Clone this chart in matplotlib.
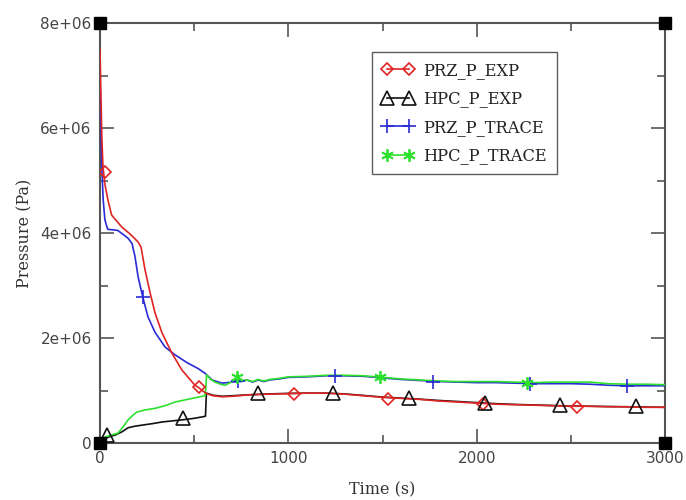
import matplotlib
matplotlib.use("Agg")
import matplotlib.pyplot as plt
from matplotlib.lines import Line2D

# ---- data (time in s, pressure in Pa) ----
prz_exp_t = [0, 5, 10, 16, 25, 42, 62, 90, 117, 160, 202, 218, 239, 266, 292, 329, 382,
             435, 504, 526, 550, 562, 575, 600, 650, 700, 800, 900, 1000, 1100, 1200,
             1300, 1400, 1500, 1600, 1700, 1800, 1900, 2000, 2100, 2200, 2300, 2400, 2500,
             2600, 2700, 2800, 2900, 3000]
prz_exp_p = [7.5e6, 6.6e6, 5.8e6, 5.26e6, 4.95e6, 4.63e6, 4.34e6, 4.22e6, 4.11e6, 3.98e6,
             3.83e6, 3.73e6, 3.3e6, 2.86e6, 2.48e6, 2.1e6, 1.71e6, 1.39e6, 1.1e6, 1.05e6,
             0.98e6, 0.95e6, 0.93e6, 0.9e6, 0.88e6, 0.89e6, 0.92e6, 0.93e6, 0.94e6, 0.95e6,
             0.95e6, 0.93e6, 0.9e6, 0.87e6, 0.85e6, 0.83e6, 0.8e6, 0.78e6, 0.76e6, 0.74e6,
             0.73e6, 0.72e6, 0.71e6, 0.7e6, 0.7e6, 0.69e6, 0.69e6, 0.68e6, 0.68e6]

hpc_exp_t = [0, 20, 50, 80, 115, 149, 185, 223, 280, 329, 380, 435, 500, 547, 560, 565, 600,
             650, 700, 800, 900, 1000, 1100, 1200, 1300, 1400, 1500, 1600, 1700, 1800, 1900,
             2000, 2100, 2200, 2300, 2400, 2500, 2600, 2700, 2800, 2900, 3000]
hpc_exp_p = [0.0, 0.07e6, 0.12e6, 0.15e6, 0.21e6, 0.29e6, 0.32e6, 0.34e6, 0.37e6, 0.4e6,
             0.42e6, 0.44e6, 0.47e6, 0.5e6, 0.51e6, 0.95e6, 0.91e6, 0.89e6, 0.9e6, 0.92e6,
             0.935e6, 0.945e6, 0.95e6, 0.95e6, 0.935e6, 0.905e6, 0.875e6, 0.855e6, 0.835e6,
             0.81e6, 0.79e6, 0.77e6, 0.75e6, 0.735e6, 0.725e6, 0.715e6, 0.705e6, 0.7e6,
             0.695e6, 0.69e6, 0.685e6, 0.68e6]

prz_trace_t = [0, 5, 10, 17, 26, 41, 70, 94, 120, 149, 170, 186, 202, 227, 255, 292, 345,
               398, 467, 520, 557, 595, 648, 701, 750, 780, 810, 840, 870, 900, 950, 1000,
               1100, 1200, 1300, 1400, 1500, 1600, 1700, 1800, 1900, 2000, 2100, 2200, 2300,
               2400, 2500, 2600, 2700, 2800, 2900, 3000]
prz_trace_p = [7.0e6, 6.0e6, 5.2e6, 4.63e6, 4.25e6, 4.07e6, 4.06e6, 4.05e6, 3.98e6, 3.9e6,
               3.8e6, 3.55e6, 3.17e6, 2.78e6, 2.4e6, 2.11e6, 1.83e6, 1.68e6, 1.52e6, 1.42e6,
               1.33e6, 1.2e6, 1.14e6, 1.16e6, 1.17e6, 1.2e6, 1.16e6, 1.2e6, 1.17e6, 1.2e6,
               1.22e6, 1.25e6, 1.26e6, 1.28e6, 1.28e6, 1.27e6, 1.24e6, 1.21e6, 1.19e6, 1.17e6,
               1.16e6, 1.15e6, 1.15e6, 1.14e6, 1.13e6, 1.13e6, 1.13e6, 1.12e6, 1.1e6, 1.09e6,
               1.09e6, 1.09e6]

hpc_trace_t = [0, 16, 50, 96, 125, 149, 175, 196, 240, 292, 345, 398, 450, 504, 557, 562,
               566, 585, 610, 640, 664, 690, 717, 750, 780, 810, 840, 870, 900, 950, 1000,
               1100, 1200, 1300, 1400, 1500, 1600, 1700, 1800, 1900, 2000, 2100, 2200, 2300,
               2400, 2500, 2600, 2700, 2800, 2900, 3000]
hpc_trace_p = [0.0, 0.1e6, 0.14e6, 0.19e6, 0.32e6, 0.44e6, 0.53e6, 0.59e6, 0.63e6, 0.66e6,
               0.71e6, 0.78e6, 0.82e6, 0.86e6, 0.9e6, 1.05e6, 1.3e6, 1.22e6, 1.16e6, 1.12e6,
               1.1e6, 1.15e6, 1.2e6, 1.18e6, 1.2e6, 1.17e6, 1.21e6, 1.18e6, 1.21e6, 1.23e6,
               1.26e6, 1.27e6, 1.29e6, 1.29e6, 1.28e6, 1.25e6, 1.22e6, 1.2e6, 1.18e6, 1.17e6,
               1.17e6, 1.17e6, 1.16e6, 1.15e6, 1.16e6, 1.16e6, 1.16e6, 1.13e6, 1.12e6, 1.12e6,
               1.11e6]

prz_exp_mt = [27, 526, 1030, 1530, 2035, 2533]
prz_exp_mp = [5.16e6, 1.07e6, 0.93e6, 0.84e6, 0.74e6, 0.69e6]
hpc_exp_mt = [37, 440, 840, 1238, 1641, 2045, 2443, 2846]
hpc_exp_mp = [0.15e6, 0.48e6, 0.95e6, 0.95e6, 0.86e6, 0.76e6, 0.72e6, 0.7e6]
prz_trace_mt = [227, 735, 1249, 1770, 2283, 2798]
prz_trace_mp = [2.78e6, 1.19e6, 1.28e6, 1.16e6, 1.12e6, 1.09e6]
hpc_trace_mt = [730, 1487, 2267]
hpc_trace_mp = [1.26e6, 1.25e6, 1.15e6]

x_ticks = [0, 1000, 2000, 3000]
x_ticklabels = ["0", "1000", "2000", "3000"]
y_ticks = [0, 2e6, 4e6, 6e6, 8e6]
y_ticklabels = ["0", "2e+06", "4e+06", "6e+06", "8e+06"]
series_labels = ["PRZ_P_EXP", "HPC_P_EXP", "PRZ_P_TRACE", "HPC_P_TRACE"]

RED = "#e02424"
BLACK = "#111111"
BLUE = "#2a2ad6"
GREEN = "#2ee02e"
GRAY = "#555555"

styles = [
    dict(color=RED, marker='D', ms=6.5, mfc='none', mec=RED, mew=1.2),
    dict(color=BLACK, marker='^', ms=9.5, mfc='none', mec=BLACK, mew=1.2),
    dict(color=BLUE, marker='+', ms=9.5, mec=BLUE, mew=1.2),
    dict(color=GREEN, marker=(6, 2, 0), ms=9, mec=GREEN, mew=1.3),
]

fig = plt.figure(figsize=(6.86, 5.0), dpi=100)
ax = fig.add_axes([100/686, 1-443/500, 565/686, 420/500])

ax.plot(hpc_exp_t, hpc_exp_p, color=BLACK, lw=1.2, zorder=3)
ax.plot(prz_exp_t, prz_exp_p, color=RED, lw=1.2, zorder=4)
ax.plot(prz_trace_t, prz_trace_p, color=BLUE, lw=1.2, zorder=3)
ax.plot(hpc_trace_t, hpc_trace_p, color=GREEN, lw=1.2, zorder=3)

for (mt, mp), st in zip([(prz_exp_mt, prz_exp_mp), (hpc_exp_mt, hpc_exp_mp),
                         (prz_trace_mt, prz_trace_mp), (hpc_trace_mt, hpc_trace_mp)], styles):
    ax.plot(mt, mp, ls='none', zorder=5, **st)

handles = [Line2D([], [], lw=1.2, **st) for st in styles]
leg = fig.legend(handles, series_labels, loc='upper left', bbox_to_anchor=(372/686, 1-52/500),
                 numpoints=2, handlelength=2.0, labelspacing=0.71, borderpad=0.6,
                 handletextpad=0.55, borderaxespad=0, fancybox=False, frameon=True,
                 prop={'family': 'DejaVu Serif', 'size': 11.7})
leg.get_frame().set_edgecolor('#333333')
leg.get_frame().set_linewidth(1.0)
for t in leg.get_texts():
    t.set_color('#222222')

ax.set_xlim(0, 3000)
ax.set_ylim(0, 8e6)
ax.set_xticks(x_ticks)
ax.set_xticklabels(x_ticklabels)
ax.set_yticks(y_ticks)
ax.set_yticklabels(y_ticklabels)
ax.set_xticks([500, 1500, 2500], minor=True)
ax.set_yticks([1e6, 3e6, 5e6, 7e6], minor=True)
ax.tick_params(which='both', direction='in', top=True, right=True, color=GRAY, width=1.2)
ax.tick_params(which='major', length=10, labelsize=11, labelcolor='#444444', pad=6)
ax.tick_params(which='minor', length=6)
for lbl in ax.get_xticklabels() + ax.get_yticklabels():
    lbl.set_family('DejaVu Sans')

for s in ax.spines.values():
    s.set_color(GRAY)
    s.set_linewidth(1.5)

ax.set_xlabel("Time (s)", family='DejaVu Serif', fontsize=11.5, color='#333333', labelpad=11)
ax.set_ylabel("Pressure (Pa)", family='DejaVu Serif', fontsize=11.5, color='#333333', labelpad=5)

for cx, cy in [(0, 0), (1, 0), (0, 1), (1, 1)]:
    ax.plot([cx], [cy], marker='s', ms=8, color='black', transform=ax.transAxes,
            clip_on=False, zorder=10)

fig.savefig("out.png", dpi=100)
